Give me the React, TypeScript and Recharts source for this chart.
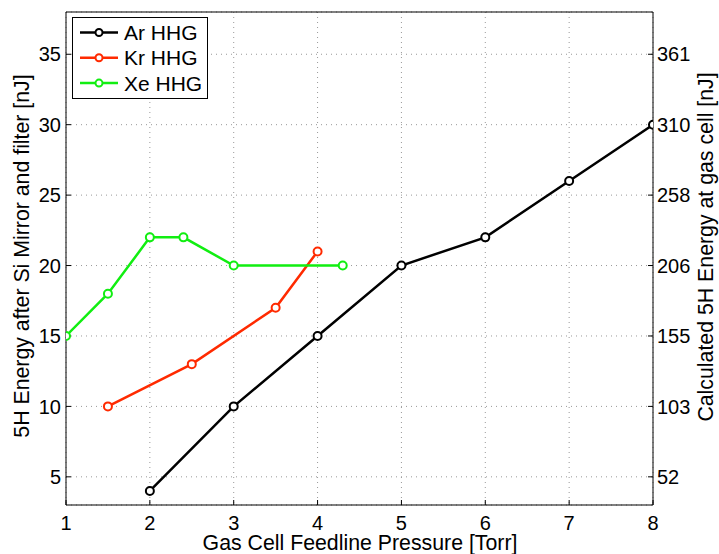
import React from 'react';
import {
  LineChart,
  Line,
  XAxis,
  YAxis,
  CartesianGrid,
  Legend,
  Label,
} from 'recharts';

const pressureTicks = [1, 2, 3, 4, 5, 6, 7, 8];
const energyTicks = [5, 10, 15, 20, 25, 30, 35];
const calculatedLabels = ['52', '103', '155', '206', '258', '310', '361'];

const arPressure = [2, 3, 4, 5, 6, 7, 8];
const arEnergy = [4, 10, 15, 20, 22, 26, 30];
const krPressure = [1.5, 2.5, 3.5, 4];
const krEnergy = [10, 13, 17, 21];
const xePressure = [1, 1.5, 2, 2.4, 3, 4.3];
const xeEnergy = [15, 18, 22, 22, 20, 20];

const toPoints = (xs: number[], ys: number[]) => xs.map((x, i) => ({ x, y: ys[i] }));

// Ar is hung on the right axis (same range) so that axis gets drawn
const series = [
  { name: 'Ar HHG', color: '#000000', axis: 'right', data: toPoints(arPressure, arEnergy) },
  { name: 'Kr HHG', color: '#ff2a00', axis: 0, data: toPoints(krPressure, krEnergy) },
  { name: 'Xe HHG', color: '#11ee11', axis: 0, data: toPoints(xePressure, xeEnergy) },
];

const font = '"Liberation Sans", Arial, Helvetica, sans-serif';
const tickStyle = { fill: '#000', fontSize: 20, fontFamily: font };

// axis titles drawn at fixed spots
const Title = ({ x, y, angle, text }: { x: number; y: number; angle: number; text: string }) => (
  <text
    x={x}
    y={y}
    transform={angle ? `rotate(${angle} ${x} ${y})` : undefined}
    textAnchor="middle"
    fontSize={21.3}
    fontFamily={font}
    fill="#000"
  >
    {text}
  </text>
);

const LegendBox = ({ payload }: any) => (
  <svg width={137} height={83} style={{ display: 'block' }}>
    <rect x={0.5} y={0.5} width={135} height={81} fill="#fff" stroke="#000" strokeWidth={1} />
    {(payload || []).map((p: any, i: number) => {
      const cy = 15.5 + i * 25.3;
      return (
        <g key={p.value}>
          <line x1={8} x2={46} y1={cy} y2={cy} stroke={p.color} strokeWidth={2.5} />
          <circle cx={27} cy={cy} r={3.5} fill="#fff" stroke={p.color} strokeWidth={2} />
          <text x={52} y={cy + 7.5} fontSize={21} fontFamily={font} fill="#000">
            {p.value}
          </text>
        </g>
      );
    })}
  </svg>
);

export default function App() {
  return (
    <div style={{ position: 'absolute', left: 0, top: 0, width: 719, height: 554, background: '#fff' }}>
      <LineChart width={719} height={554} margin={{ top: 0, right: 0, bottom: 0, left: 0 }}>
        <CartesianGrid stroke="#999" strokeDasharray="1 4" />
        <XAxis
          type="number"
          dataKey="x"
          domain={[1, 8]}
          ticks={pressureTicks}
          allowDataOverflow
          height={49}
          stroke="#000"
          tickSize={-5}
          tickMargin={16}
          tick={tickStyle}
        >
          <Label content={() => <Title x={360} y={550} angle={0} text="Gas Cell Feedline Pressure [Torr]" />} />
        </XAxis>
        <XAxis
          xAxisId="top"
          orientation="top"
          type="number"
          dataKey="x"
          domain={[1, 8]}
          ticks={pressureTicks}
          height={12}
          stroke="#000"
          tickSize={-5}
          tickFormatter={() => ''}
        />
        <YAxis
          type="number"
          domain={[3, 38]}
          ticks={energyTicks}
          allowDataOverflow
          width={66}
          stroke="#000"
          tickSize={-5}
          tickMargin={10}
          tick={tickStyle}
        >
          <Label content={() => <Title x={28.5} y={256} angle={-90} text="5H Energy after Si Mirror and filter [nJ]" />} />
        </YAxis>
        <YAxis
          yAxisId="right"
          orientation="right"
          type="number"
          domain={[3, 38]}
          ticks={energyTicks}
          allowDataOverflow
          width={66}
          stroke="#000"
          tickSize={-5}
          tickMargin={9}
          tick={tickStyle}
          tickFormatter={(v: number) => calculatedLabels[energyTicks.indexOf(v)] ?? ''}
        >
          <Label content={() => <Title x={713} y={247} angle={-90} text="Calculated 5H Energy at gas cell [nJ]" />} />
        </YAxis>
        <Legend
          layout="horizontal"
          verticalAlign="middle"
          align="center"
          content={<LegendBox />}
          wrapperStyle={{ position: 'absolute', left: 72, top: 17, width: 137, height: 83 }}
        />
        {series.map((s) => (
          <Line
            key={s.name}
            name={s.name}
            data={s.data}
            dataKey="y"
            yAxisId={s.axis}
            type="linear"
            stroke={s.color}
            strokeWidth={2.5}
            dot={{ r: 4, strokeWidth: 2, fill: '#fff', stroke: s.color }}
            activeDot={false}
            isAnimationActive={false}
          />
        ))}
      </LineChart>
    </div>
  );
}
